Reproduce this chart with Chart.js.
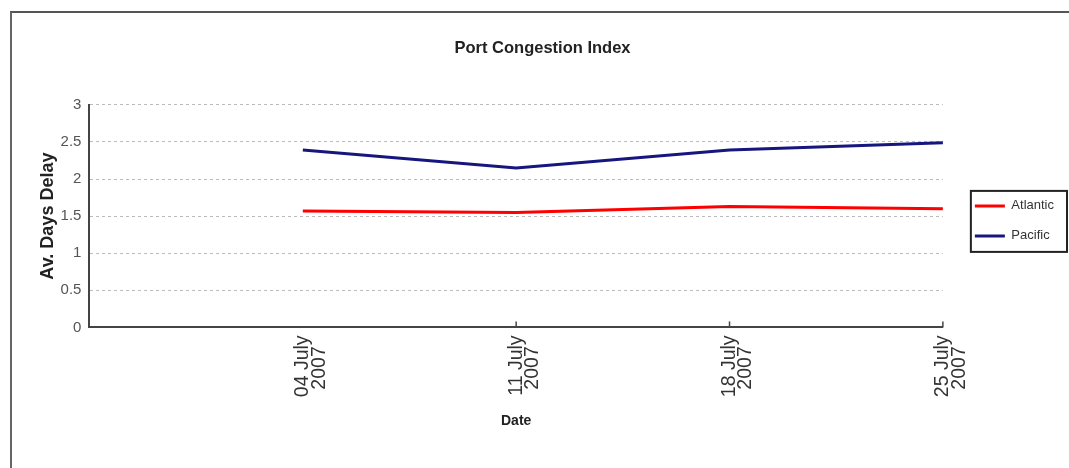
<!DOCTYPE html>
<html><head><meta charset="utf-8">
<script src="https://cdn.jsdelivr.net/npm/chart.js@4/dist/chart.umd.min.js"></script>
<style>
html,body{margin:0;padding:0;background:#fff;}
#wrap{position:relative;width:1069px;height:468px;overflow:hidden;background:#fff;}
#frame{position:absolute;left:10px;top:11px;width:1100px;height:500px;border-top:2px solid #555;border-left:2px solid #666;}
canvas{position:absolute;left:0;top:0;}
</style></head><body>
<div id="wrap"><div id="frame"></div><canvas id="c" width="1069" height="468"></canvas></div>
<script>
const chartTitle = 'Port Congestion Index';
const xTitle = 'Date';
const yTitle = 'Av. Days Delay';
const categories = ['', '04 July 2007', '11 July 2007', '18 July 2007', '25 July 2007'];
const atlantic = [null, 1.57, 1.55, 1.63, 1.60];
const pacific = [null, 2.39, 2.15, 2.39, 2.49];
const yTicks = [0, 0.5, 1, 1.5, 2, 2.5, 3];

const FONT = '"Liberation Sans", Arial, sans-serif';
const X_FONT_SIZE = 19.5;

// centre the shorter second line under the first (labels are right-aligned when rotated)
const measureCtx = document.createElement('canvas').getContext('2d');
measureCtx.font = X_FONT_SIZE + 'px ' + FONT;
function splitLabel(s) {
  const k = s.lastIndexOf(' ');
  const a = s.slice(0, k), b = s.slice(k + 1);
  const diff = measureCtx.measureText(a).width - measureCtx.measureText(b).width;
  const n = Math.max(0, Math.round(diff / 2 / measureCtx.measureText(' ').width));
  return [a, b + ' '.repeat(n)];
}

const extras = {
  id: 'extras',
  afterDraw(chart) {
    const ctx = chart.ctx;
    const boxes = chart.legend && chart.legend.legendHitBoxes;
    if (boxes && boxes.length) {
      const l = Math.min(...boxes.map(b => b.left));
      const r = Math.max(...boxes.map(b => b.left + b.width));
      const t = Math.min(...boxes.map(b => b.top));
      const b = Math.max(...boxes.map(b => b.top + b.height));
      ctx.save();
      ctx.strokeStyle = '#222';
      ctx.lineWidth = 2;
      ctx.strokeRect(l - 4, t - 8.5, (r - l) + 17, (b - t) + 18);
      ctx.restore();
    }
    const xs = chart.scales.x;
    ctx.save();
    ctx.strokeStyle = '#444';
    ctx.lineWidth = 1.5;
    xs.ticks.forEach((tk, i) => {
      if (i === 0) return;
      const x = xs.getPixelForTick(i);
      ctx.beginPath();
      ctx.moveTo(x, xs.top);
      ctx.lineTo(x, xs.top - 6);
      ctx.stroke();
    });
    ctx.restore();
  }
};

new Chart(document.getElementById('c'), {
  type: 'line',
  data: {
    labels: categories,
    datasets: [
      { label: 'Atlantic', data: atlantic, borderColor: '#ff0000', backgroundColor: '#ff0000', borderWidth: 3, pointRadius: 0, tension: 0 },
      { label: 'Pacific', data: pacific, borderColor: '#16167e', backgroundColor: '#16167e', borderWidth: 3, pointRadius: 0, tension: 0 }
    ]
  },
  options: {
    responsive: false,
    animation: false,
    devicePixelRatio: 1,
    layout: { autoPadding: false, padding: { left: 21, right: 5, top: 0, bottom: 34 } },
    plugins: {
      title: {
        display: true, text: chartTitle, color: '#222',
        font: { family: FONT, size: 16.5, weight: 'bold' },
        padding: { top: 39, bottom: 46 }
      },
      legend: {
        position: 'right',
        title: { display: true, text: '', padding: 0, font: { size: 6.5 } },
        labels: {
          usePointStyle: true, pointStyle: 'line', pointStyleWidth: 30,
          font: { family: FONT, size: 13 }, color: '#333', padding: 17
        }
      },
      tooltip: { enabled: false }
    },
    scales: {
      x: {
        type: 'category',
        offset: false,
        grid: { display: false, drawTicks: false },
        border: { display: true, color: '#444', width: 2 },
        ticks: {
          autoSkip: false, minRotation: 90, maxRotation: 90, padding: 8,
          color: '#333', font: { family: FONT, size: X_FONT_SIZE, lineHeight: 0.85 },
          callback: (v, i) => categories[i] ? splitLabel(categories[i]) : null
        },
        title: {
          display: true, text: xTitle, color: '#222',
          font: { family: FONT, size: 14, weight: 'bold' },
          padding: { top: 8, bottom: 4 }
        }
      },
      y: {
        min: yTicks[0], max: yTicks[yTicks.length - 1],
        afterBuildTicks: (scale) => { scale.ticks = yTicks.map(v => ({ value: v })); },
        grid: { color: (c) => (c.tick && c.tick.value === 0) ? 'rgba(0,0,0,0)' : '#bbb', lineWidth: 1, drawTicks: false },
        border: { display: true, color: '#444', width: 2, dash: [3, 3] },
        ticks: { color: '#555', padding: 8, font: { family: FONT, size: 15 }, callback: (v) => String(v) },
        title: {
          display: true, text: yTitle, color: '#222',
          font: { family: FONT, size: 18, weight: 'bold' },
          padding: { top: 16, bottom: -6 }
        }
      },
      spacer: {
        type: 'linear', position: 'right', display: true,
        grid: { display: false }, border: { display: false }, ticks: { display: false },
        afterFit: (scale) => { scale.width = 15; }
      }
    }
  },
  plugins: [extras]
});
</script>
</body></html>
